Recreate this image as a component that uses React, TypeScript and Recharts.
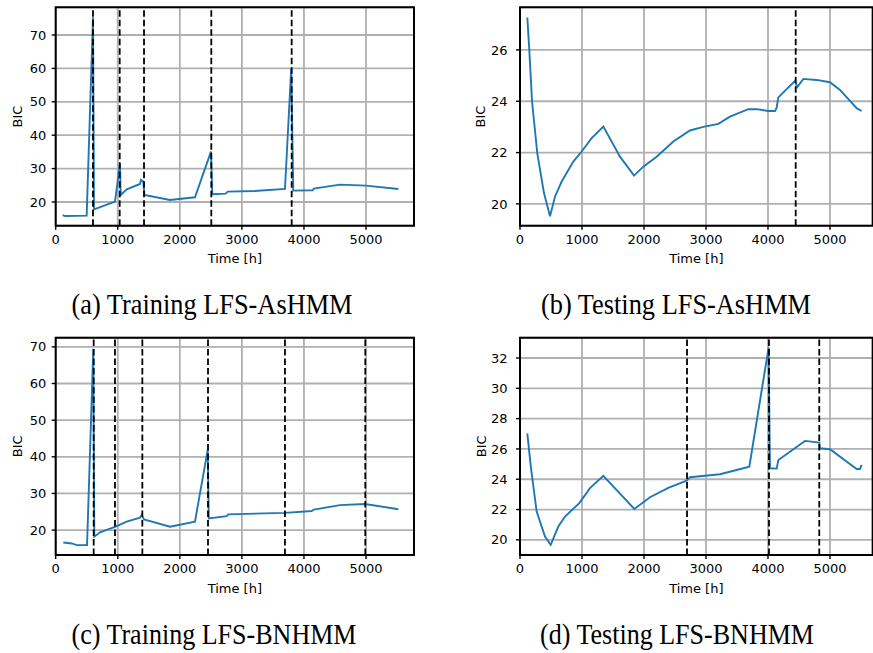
import React from "react"
import {
  LineChart,
  Line,
  XAxis,
  YAxis,
  CartesianGrid,
  ReferenceLine,
  ReferenceArea,
} from "recharts"

// (a) training, LFS-AsHMM
const TIME_A = [113, 150, 499, 601, 617, 955, 1036, 1047, 1144, 1358, 1374, 1411, 1430, 1841, 2244, 2502, 2523, 2739, 2771, 3200, 3694, 3795, 3828, 4141, 4160, 4580, 5000, 5520]
const BIC_A = [16.1, 15.8, 15.9, 75.3, 17.8, 20.1, 31.6, 22.1, 23.8, 25.4, 26.6, 26.1, 22.1, 20.6, 21.4, 35.1, 22.3, 22.5, 23.1, 23.3, 23.9, 60.0, 23.4, 23.5, 24.0, 25.2, 24.9, 23.9]
const CUTS_A = [601, 1031, 1423, 2507, 3802]

// (b) testing, LFS-AsHMM
const TIME_B = [118, 150, 194, 279, 387, 484, 565, 672, 860, 995, 1156, 1344, 1613, 1839, 1989, 2204, 2473, 2742, 2957, 3199, 3387, 3683, 3817, 4005, 4113, 4140, 4167, 4301, 4435, 4473, 4570, 4785, 5000, 5161, 5430, 5511]
const BIC_B = [27.26, 26.0, 24.0, 21.97, 20.42, 19.52, 20.29, 20.87, 21.65, 22.04, 22.56, 23.01, 21.84, 21.1, 21.45, 21.84, 22.43, 22.86, 23.0, 23.12, 23.4, 23.69, 23.69, 23.62, 23.62, 23.75, 24.15, 24.47, 24.79, 24.55, 24.87, 24.83, 24.74, 24.44, 23.73, 23.62]
const CUTS_B = [4447]

// (c) training, LFS-BNHMM
const TIME_C = [123, 258, 339, 473, 505, 606, 622, 714, 955, 1144, 1358, 1385, 1423, 1841, 2244, 2449, 2467, 2755, 2782, 3694, 4124, 4160, 4580, 4983, 5520]
const BIC_C = [16.6, 16.35, 15.9, 15.9, 15.9, 69.5, 18.2, 19.4, 20.9, 22.3, 23.4, 24.1, 22.9, 20.9, 22.3, 41.9, 23.2, 23.8, 24.3, 24.7, 25.2, 25.6, 26.8, 27.1, 25.7]
const CUTS_C = [612, 955, 1396, 2454, 3694, 4988]

// (d) testing, LFS-BNHMM
const TIME_D = [118, 177, 269, 403, 495, 618, 726, 957, 1129, 1344, 1844, 2097, 2400, 2688, 2742, 3226, 3699, 4010, 4032, 4140, 4167, 4597, 4828, 4839, 5000, 5430, 5484, 5511]
const BIC_D = [27.03, 24.73, 21.87, 20.22, 19.67, 20.88, 21.54, 22.42, 23.41, 24.22, 22.04, 22.81, 23.45, 23.91, 24.13, 24.33, 24.83, 32.69, 24.72, 24.7, 25.27, 26.53, 26.42, 26.04, 25.98, 24.68, 24.68, 24.94]
const CUTS_D = [2694, 4016, 4827]

const X_TICKS = [0, 1000, 2000, 3000, 4000, 5000]
const Y_TICKS_TRAIN = [20, 30, 40, 50, 60, 70]
const Y_TICKS_B = [20, 22, 24, 26]
const Y_TICKS_D = [20, 22, 24, 26, 28, 30, 32]

const CAPTIONS = [
  "(a) Training LFS-AsHMM",
  "(b) Testing LFS-AsHMM",
  "(c) Training LFS-BNHMM",
  "(d) Testing LFS-BNHMM",
]

const BLUE = "#1f77b4"
const FONT = "'DejaVu Sans', sans-serif"
const FONT_SIZE = 13

const toRows = (t: number[], v: number[]) => t.map((x, i) => ({ t: x, bic: v[i] }))

type PanelProps = {
  left: number
  top: number
  width: number
  height: number
  margin: { top: number; right: number; bottom: number; left: number }
  rows: { t: number; bic: number }[]
  xMax: number
  yDomain: [number, number]
  yTicks: number[]
  cuts: number[]
  yTickMargin: number
  yLabelOffset: number
}

function Panel(p: PanelProps) {
  const textStyle = { fill: "#000", fontSize: FONT_SIZE, fontFamily: FONT }
  return (
    <LineChart
      width={p.width}
      height={p.height}
      data={p.rows}
      margin={p.margin}
      style={{ position: "absolute", left: p.left, top: p.top }}
    >
      <CartesianGrid stroke="#b0b0b0" strokeWidth={1.8} />
      <XAxis
        dataKey="t"
        type="number"
        domain={[0, p.xMax]}
        ticks={X_TICKS}
        allowDataOverflow
        height={40}
        axisLine={false}
        tickLine={{ stroke: "#000", strokeWidth: 1.4 }}
        tickSize={4}
        tickMargin={5}
        tick={textStyle}
        label={{ value: "Time [h]", position: "insideBottom", offset: 2.5, style: textStyle }}
      />
      <YAxis
        type="number"
        domain={p.yDomain}
        ticks={p.yTicks}
        allowDataOverflow
        width={46}
        axisLine={false}
        tickLine={{ stroke: "#000", strokeWidth: 1.4 }}
        tickSize={4}
        tickMargin={p.yTickMargin}
        tick={textStyle}
        label={{ value: "BIC", angle: -90, position: "insideLeft", offset: p.yLabelOffset, style: { ...textStyle, textAnchor: "middle" } }}
      />
      <Line
        dataKey="bic"
        type="linear"
        stroke={BLUE}
        strokeWidth={1.9}
        dot={false}
        isAnimationActive={false}
      />
      {p.cuts.map((c) => (
        <ReferenceLine key={c} x={c} stroke="#000" strokeWidth={1.8} strokeDasharray="6.5 3" />
      ))}
      <ReferenceArea
        x1={0}
        x2={p.xMax}
        y1={p.yDomain[0]}
        y2={p.yDomain[1]}
        fill="none"
        stroke="#000"
        strokeWidth={2}
      />
    </LineChart>
  )
}

export default function App() {
  const topMargin = { top: 7.3, bottom: 14.3 }
  const lowMargin = { top: 12.7, bottom: 10 }
  return (
    <div style={{ position: "absolute", left: 0, top: 0, width: 873, height: 653, background: "#fff", overflow: "hidden" }}>
      <Panel
        left={0} top={0} width={440} height={280}
        margin={{ ...topMargin, left: 9.7, right: 26 }}
        rows={toRows(TIME_A, BIC_A)}
        xMax={5773} yDomain={[12.9, 78.3]} yTicks={Y_TICKS_TRAIN}
        cuts={CUTS_A} yTickMargin={5.5} yLabelOffset={7.3}
      />
      <Panel
        left={440} top={0} width={433} height={280}
        margin={{ ...topMargin, left: 34, right: 0.3 }}
        rows={toRows(TIME_B, BIC_B)}
        xMax={5689} yDomain={[19.15, 27.66]} yTicks={Y_TICKS_B}
        cuts={CUTS_B} yTickMargin={8.5} yLabelOffset={6}
      />
      <Panel
        left={0} top={325} width={440} height={280}
        margin={{ ...lowMargin, left: 9.7, right: 26 }}
        rows={toRows(TIME_C, BIC_C)}
        xMax={5773} yDomain={[13.2, 72.5]} yTicks={Y_TICKS_TRAIN}
        cuts={CUTS_C} yTickMargin={5.5} yLabelOffset={7.3}
      />
      <Panel
        left={440} top={325} width={433} height={280}
        margin={{ ...lowMargin, left: 34, right: 0.3 }}
        rows={toRows(TIME_D, BIC_D)}
        xMax={5689} yDomain={[19.0, 33.34]} yTicks={Y_TICKS_D}
        cuts={CUTS_D} yTickMargin={8.5} yLabelOffset={7.7}
      />
      <svg width={873} height={653} style={{ position: "absolute", left: 0, top: 0, pointerEvents: "none" }}>
        <g fontFamily="'Liberation Serif', 'Times New Roman', serif" fontSize={29} fill="#000" textAnchor="middle">
          <text x={212} y={314} textLength={281} lengthAdjust="spacingAndGlyphs">{CAPTIONS[0]}</text>
          <text x={676} y={314} textLength={270} lengthAdjust="spacingAndGlyphs">{CAPTIONS[1]}</text>
          <text x={214} y={644} textLength={285} lengthAdjust="spacingAndGlyphs">{CAPTIONS[2]}</text>
          <text x={677} y={644} textLength={274} lengthAdjust="spacingAndGlyphs">{CAPTIONS[3]}</text>
        </g>
      </svg>
    </div>
  )
}
